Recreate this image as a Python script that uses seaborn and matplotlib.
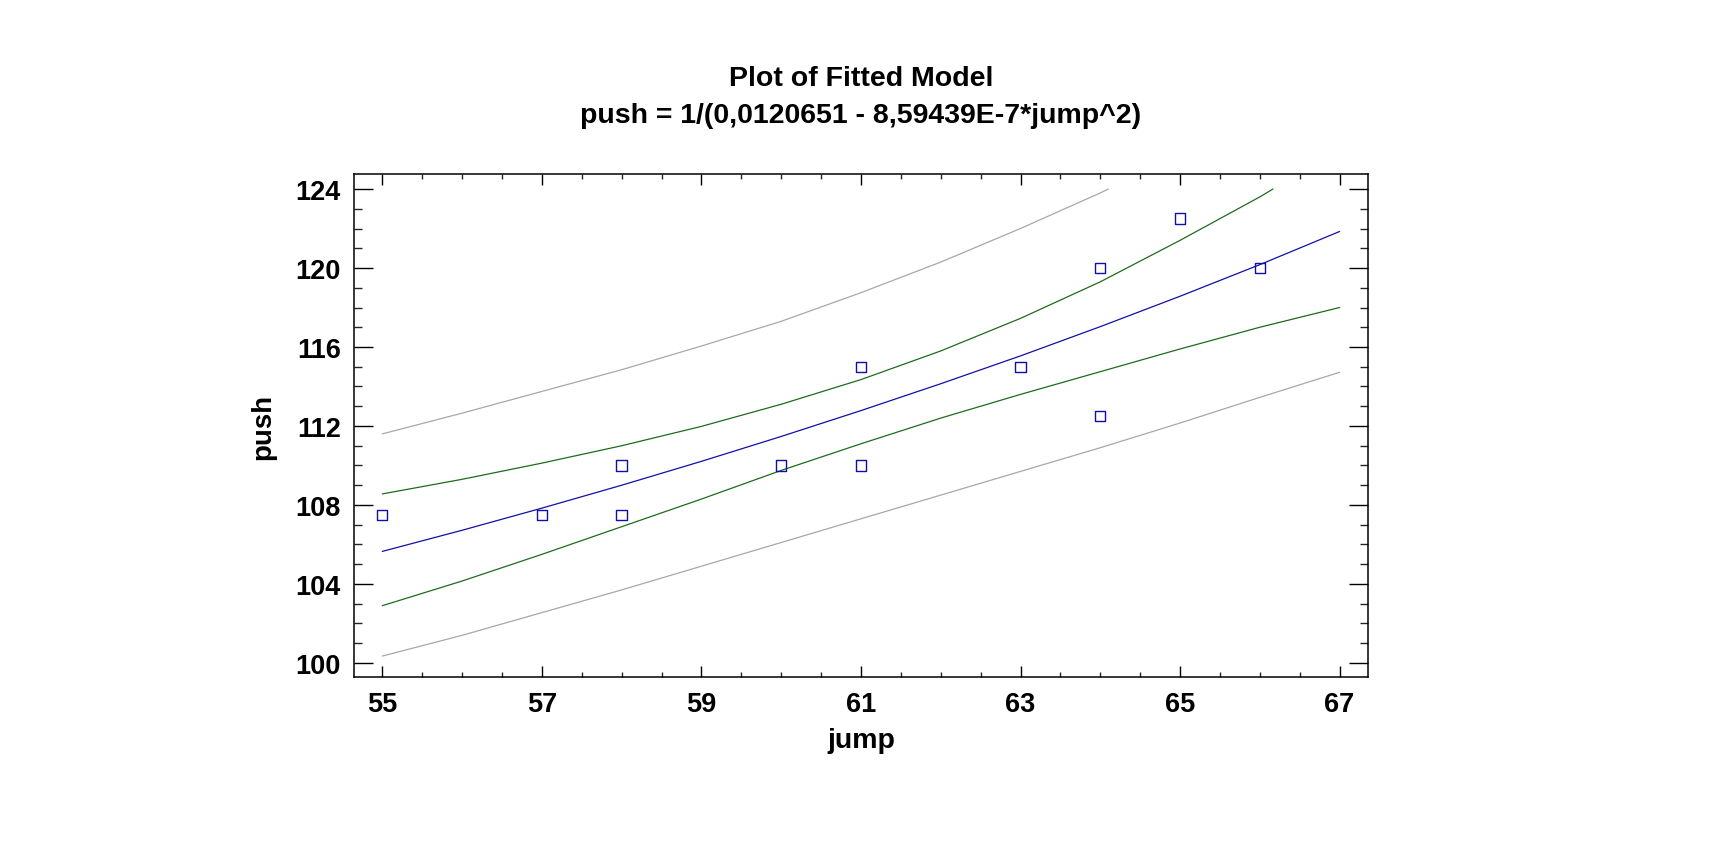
import matplotlib
matplotlib.use("Agg")
import matplotlib.pyplot as plt
from matplotlib.ticker import MultipleLocator
import seaborn as sns
import pandas as pd

# observed data
jump_obs = [55, 57, 58, 58, 60, 61, 61, 63, 64, 64, 65, 66]
push_obs = [107.5, 107.5, 107.5, 110, 110, 110, 115, 115, 112.5, 120, 122.5, 120]

# fitted model curve (read at integer jump values)
fit_x = [55, 56, 57, 58, 59, 60, 61, 62, 63, 64, 65, 66, 67]
fit_y = [105.65, 106.72, 107.84, 109.0, 110.21, 111.47, 112.78, 114.14, 115.55, 117.03, 118.57, 120.17, 121.85]

# confidence limits (green)
conf_up_x = [55, 56, 57, 58, 59, 60, 61, 62, 63, 64, 65, 66, 66.165]
conf_up_y = [108.56, 109.3, 110.12, 111.0, 111.98, 113.1, 114.35, 115.8, 117.45, 119.3, 121.4, 123.6, 124.0]
conf_lo_x = [55, 56, 57, 58, 59, 60, 61, 62, 63, 64, 65, 66, 67]
conf_lo_y = [102.9, 104.15, 105.5, 106.9, 108.3, 109.75, 111.1, 112.4, 113.6, 114.75, 115.9, 117.0, 118.0]

# prediction limits (gray)
pred_up_x = [55, 56, 57, 58, 59, 60, 61, 62, 63, 64, 64.1]
pred_up_y = [111.6, 112.65, 113.75, 114.85, 116.05, 117.3, 118.75, 120.3, 122.0, 123.8, 124.0]
pred_lo_x = [55, 56, 57, 58, 59, 60, 61, 62, 63, 64, 65, 66, 67]
pred_lo_y = [100.35, 101.4, 102.55, 103.7, 104.9, 106.1, 107.3, 108.5, 109.7, 110.9, 112.15, 113.45, 114.72]

x_ticks = [55, 57, 59, 61, 63, 65, 67]
y_ticks = [100, 104, 108, 112, 116, 120, 124]

title_text = "Plot of Fitted Model\npush = 1/(0,0120651 - 8,59439E-7*jump^2)"

sns.set_theme(style="white")
plt.rcParams['font.family'] = ['Liberation Sans', 'DejaVu Sans']

fig = plt.figure(figsize=(17.21, 8.53), dpi=100)
ax = fig.add_axes([354/1721, 1 - 678/853, (1368 - 354)/1721, (678 - 175)/853])

gray = "#a8a8a8"
green = "#1e6b1e"
blue = "#1010a8"

for xs, ys, c in [(pred_up_x, pred_up_y, gray), (pred_lo_x, pred_lo_y, gray),
                  (conf_up_x, conf_up_y, green), (conf_lo_x, conf_lo_y, green),
                  (fit_x, fit_y, blue)]:
    df = pd.DataFrame({"x": xs, "y": ys})
    sns.lineplot(data=df, x="x", y="y", ax=ax, color=c, linewidth=0.9,
                 estimator=None, sort=False)

obs = pd.DataFrame({"jump": jump_obs, "push": push_obs})
sns.scatterplot(data=obs, x="jump", y="push", ax=ax, marker="s", s=55,
                facecolor="none", edgecolor=blue, linewidth=1.0, zorder=5)

ax.set_xlim(54.645, 67.356)
ax.set_ylim(99.29, 124.76)
ax.set_xticks(x_ticks)
ax.set_yticks(y_ticks)
ax.xaxis.set_minor_locator(MultipleLocator(0.5))
ax.yaxis.set_minor_locator(MultipleLocator(1))

for s in ax.spines.values():
    s.set_visible(True)
    s.set_color("black")
    s.set_linewidth(1.1)

ax.tick_params(axis="x", which="major", direction="in", length=7.6, width=1.0,
               top=True, bottom=True, labelsize=19.5, pad=10, colors="black")
ax.tick_params(axis="x", which="minor", direction="in", length=3.6, width=1.0,
               top=True, bottom=True)
ax.tick_params(axis="y", which="major", direction="in", length=13.7, width=1.0,
               left=True, right=True, labelsize=19.5, pad=9.4, colors="black")
ax.tick_params(axis="y", which="minor", direction="in", length=6.0, width=1.0,
               left=True, right=True)
for lab in ax.get_xticklabels() + ax.get_yticklabels():
    lab.set_fontweight("bold")

ax.set_xlabel("jump", fontsize=20.5, fontweight="bold", labelpad=7, color="black")
ax.set_ylabel("push", fontsize=20, fontweight="bold", labelpad=14, color="black")

fig.text(861/1721, 1 - 97.5/853, title_text, ha="center", va="center",
         fontsize=20.5, fontweight="bold", linespacing=1.55, color="black")

ax.grid(False)
fig.savefig("out.png", dpi=100, facecolor="white")
